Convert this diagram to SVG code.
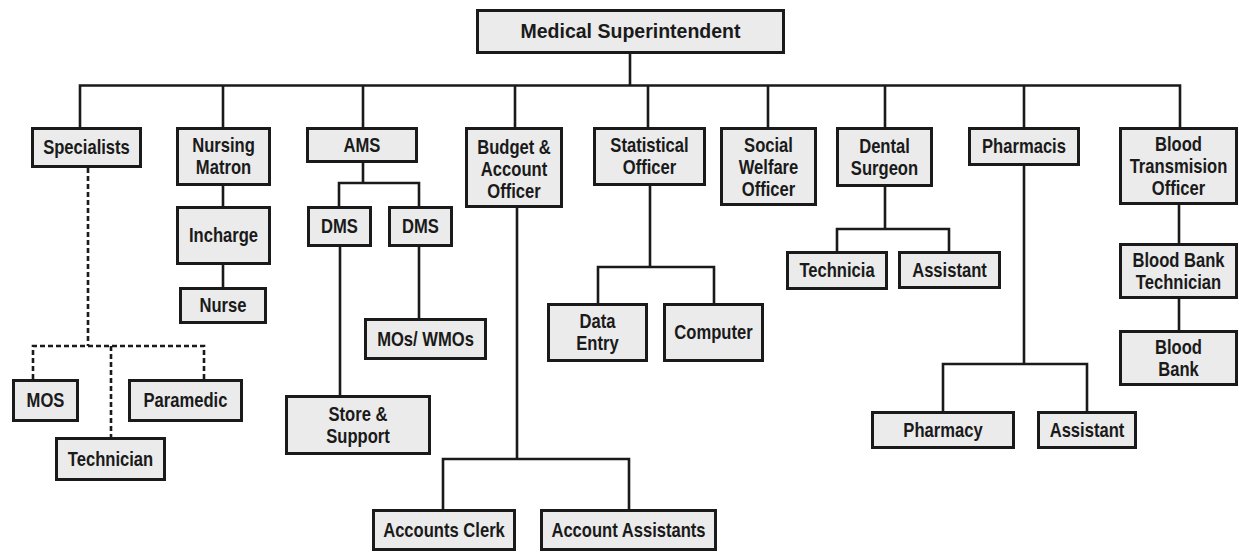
<svg xmlns="http://www.w3.org/2000/svg" width="1239" height="552" viewBox="0 0 1239 552">
<style>
.box{fill:#ebebeb;stroke:#1a1a1a;stroke-width:3}
.t{font-family:"Liberation Sans",Arial,sans-serif;font-weight:bold;font-size:20px;fill:#1a1a1a;text-anchor:middle}
.ln{fill:none;stroke:#1a1a1a;stroke-width:2.6}
.dash{fill:none;stroke:#1a1a1a;stroke-width:2.6;stroke-dasharray:5 3}
</style>
<rect width="1239" height="552" fill="#ffffff"/>
<g id="connectors">
<path class="ln" d="M630 54V85.5M80 127V85.5H1180V127M223 85.5V127M363 85.5V127M515 85.5V127M648 85.5V127M768 85.5V127M885 85.5V127M1024 85.5V127"/>
<path class="dash" d="M88 168V346M33 379V346H204V379M111 346V437"/>
<path class="ln" d="M223 186V206M223 265V287"/>
<path class="ln" d="M363 163V183M339 206V183H419V206M340 247V395M419 247V318"/>
<path class="ln" d="M517 208V459M443 509V459H629V509"/>
<path class="ln" d="M650 186V267M598 303V267H714V303"/>
<path class="ln" d="M885 187V229M837 251V229H949V251"/>
<path class="ln" d="M1024 166V364M943 411V364H1087V411"/>
<path class="ln" d="M1179 205V243M1179 299V330"/>
</g>
<g id="n-ms"><rect class="box" x="477.5" y="10.5" width="306" height="42"/><text class="t" x="630.5" y="38" style="font-size:19.5px">Medical Superintendent</text></g>
<g id="n-specialists"><rect class="box" x="32.5" y="128.5" width="108" height="38"/><text class="t" transform="matrix(0.83 0 0 1 86.5 0)" x="0" y="154.5">Specialists</text></g>
<g id="n-nursing"><rect class="box" x="177.5" y="128.5" width="92" height="56"/><text class="t" transform="matrix(0.83 0 0 1 223.5 0)" x="0" y="152.5">Nursing<tspan x="0" dy="22">Matron</tspan></text></g>
<g id="n-ams"><rect class="box" x="307.5" y="128.5" width="109" height="33"/><text class="t" transform="matrix(0.83 0 0 1 362 0)" x="0" y="152">AMS</text></g>
<g id="n-budget"><rect class="box" x="466.5" y="128.5" width="95" height="78"/><text class="t" transform="matrix(0.83 0 0 1 514 0)" x="0" y="154">Budget &amp;<tspan x="0" dy="22">Account</tspan><tspan x="0" dy="22">Officer</tspan></text></g>
<g id="n-statistical"><rect class="box" x="594.5" y="128.5" width="110" height="56"/><text class="t" transform="matrix(0.83 0 0 1 649.5 0)" x="0" y="152.5">Statistical<tspan x="0" dy="22">Officer</tspan></text></g>
<g id="n-social"><rect class="box" x="721.5" y="128.5" width="94" height="76"/><text class="t" transform="matrix(0.83 0 0 1 768.5 0)" x="0" y="152.5">Social<tspan x="0" dy="22">Welfare</tspan><tspan x="0" dy="22">Officer</tspan></text></g>
<g id="n-dental"><rect class="box" x="837.5" y="128.5" width="94" height="57"/><text class="t" transform="matrix(0.83 0 0 1 884.5 0)" x="0" y="153">Dental<tspan x="0" dy="22">Surgeon</tspan></text></g>
<g id="n-pharmacis"><rect class="box" x="969.5" y="128.5" width="109" height="36"/><text class="t" transform="matrix(0.83 0 0 1 1024 0)" x="0" y="153.5">Pharmacis</text></g>
<g id="n-bto"><rect class="box" x="1120.5" y="128.5" width="116" height="75"/><text class="t" transform="matrix(0.83 0 0 1 1178.5 0)" x="0" y="151.5">Blood<tspan x="0" dy="22">Transmision</tspan><tspan x="0" dy="22">Officer</tspan></text></g>
<g id="n-incharge"><rect class="box" x="177.5" y="207.5" width="92" height="56"/><text class="t" transform="matrix(0.83 0 0 1 223.5 0)" x="0" y="242.5">Incharge</text></g>
<g id="n-nurse"><rect class="box" x="180.5" y="288.5" width="85" height="34"/><text class="t" transform="matrix(0.83 0 0 1 223 0)" x="0" y="312.5">Nurse</text></g>
<g id="n-dms1"><rect class="box" x="308.5" y="207.5" width="62" height="38"/><text class="t" transform="matrix(0.83 0 0 1 339.5 0)" x="0" y="233.5">DMS</text></g>
<g id="n-dms2"><rect class="box" x="389.5" y="207.5" width="62" height="38"/><text class="t" transform="matrix(0.83 0 0 1 420.5 0)" x="0" y="233.5">DMS</text></g>
<g id="n-mos-wmos"><rect class="box" x="365.5" y="319.5" width="120" height="39"/><text class="t" transform="matrix(0.83 0 0 1 425.5 0)" x="0" y="346">MOs/ WMOs</text></g>
<g id="n-store"><rect class="box" x="286.5" y="396.5" width="143" height="57"/><text class="t" transform="matrix(0.83 0 0 1 358 0)" x="0" y="421">Store &amp;<tspan x="0" dy="22">Support</tspan></text></g>
<g id="n-data-entry"><rect class="box" x="548.5" y="304.5" width="98" height="56"/><text class="t" transform="matrix(0.83 0 0 1 597.5 0)" x="0" y="328.5">Data<tspan x="0" dy="22">Entry</tspan></text></g>
<g id="n-computer"><rect class="box" x="664.5" y="304.5" width="98" height="56"/><text class="t" transform="matrix(0.83 0 0 1 713.5 0)" x="0" y="339.5">Computer</text></g>
<g id="n-technicia"><rect class="box" x="787.5" y="252.5" width="99" height="36"/><text class="t" transform="matrix(0.83 0 0 1 837 0)" x="0" y="277.5">Technicia</text></g>
<g id="n-assistant-d"><rect class="box" x="899.5" y="252.5" width="100" height="35"/><text class="t" transform="matrix(0.83 0 0 1 949.5 0)" x="0" y="277">Assistant</text></g>
<g id="n-bbt"><rect class="box" x="1120.5" y="244.5" width="116" height="53"/><text class="t" transform="matrix(0.83 0 0 1 1178.5 0)" x="0" y="267">Blood Bank<tspan x="0" dy="22">Technician</tspan></text></g>
<g id="n-bb"><rect class="box" x="1120.5" y="331.5" width="116" height="53"/><text class="t" transform="matrix(0.83 0 0 1 1178.5 0)" x="0" y="354">Blood<tspan x="0" dy="22">Bank</tspan></text></g>
<g id="n-pharmacy"><rect class="box" x="872.5" y="412.5" width="141" height="35"/><text class="t" transform="matrix(0.83 0 0 1 943 0)" x="0" y="437">Pharmacy</text></g>
<g id="n-assistant-p"><rect class="box" x="1038.5" y="412.5" width="97" height="35"/><text class="t" transform="matrix(0.83 0 0 1 1087 0)" x="0" y="437">Assistant</text></g>
<g id="n-mos"><rect class="box" x="13.5" y="380.5" width="64" height="40"/><text class="t" transform="matrix(0.83 0 0 1 45.5 0)" x="0" y="407.5">MOS</text></g>
<g id="n-paramedic"><rect class="box" x="129.5" y="380.5" width="112" height="40"/><text class="t" transform="matrix(0.83 0 0 1 185.5 0)" x="0" y="407.5">Paramedic</text></g>
<g id="n-technician"><rect class="box" x="56.5" y="438.5" width="108" height="41"/><text class="t" transform="matrix(0.83 0 0 1 110.5 0)" x="0" y="466">Technician</text></g>
<g id="n-accounts-clerk"><rect class="box" x="373.5" y="510.5" width="141" height="39"/><text class="t" transform="matrix(0.83 0 0 1 444 0)" x="0" y="537">Accounts Clerk</text></g>
<g id="n-account-assistants"><rect class="box" x="541.5" y="510.5" width="174" height="39"/><text class="t" transform="matrix(0.83 0 0 1 628.5 0)" x="0" y="537">Account Assistants</text></g>
</svg>
